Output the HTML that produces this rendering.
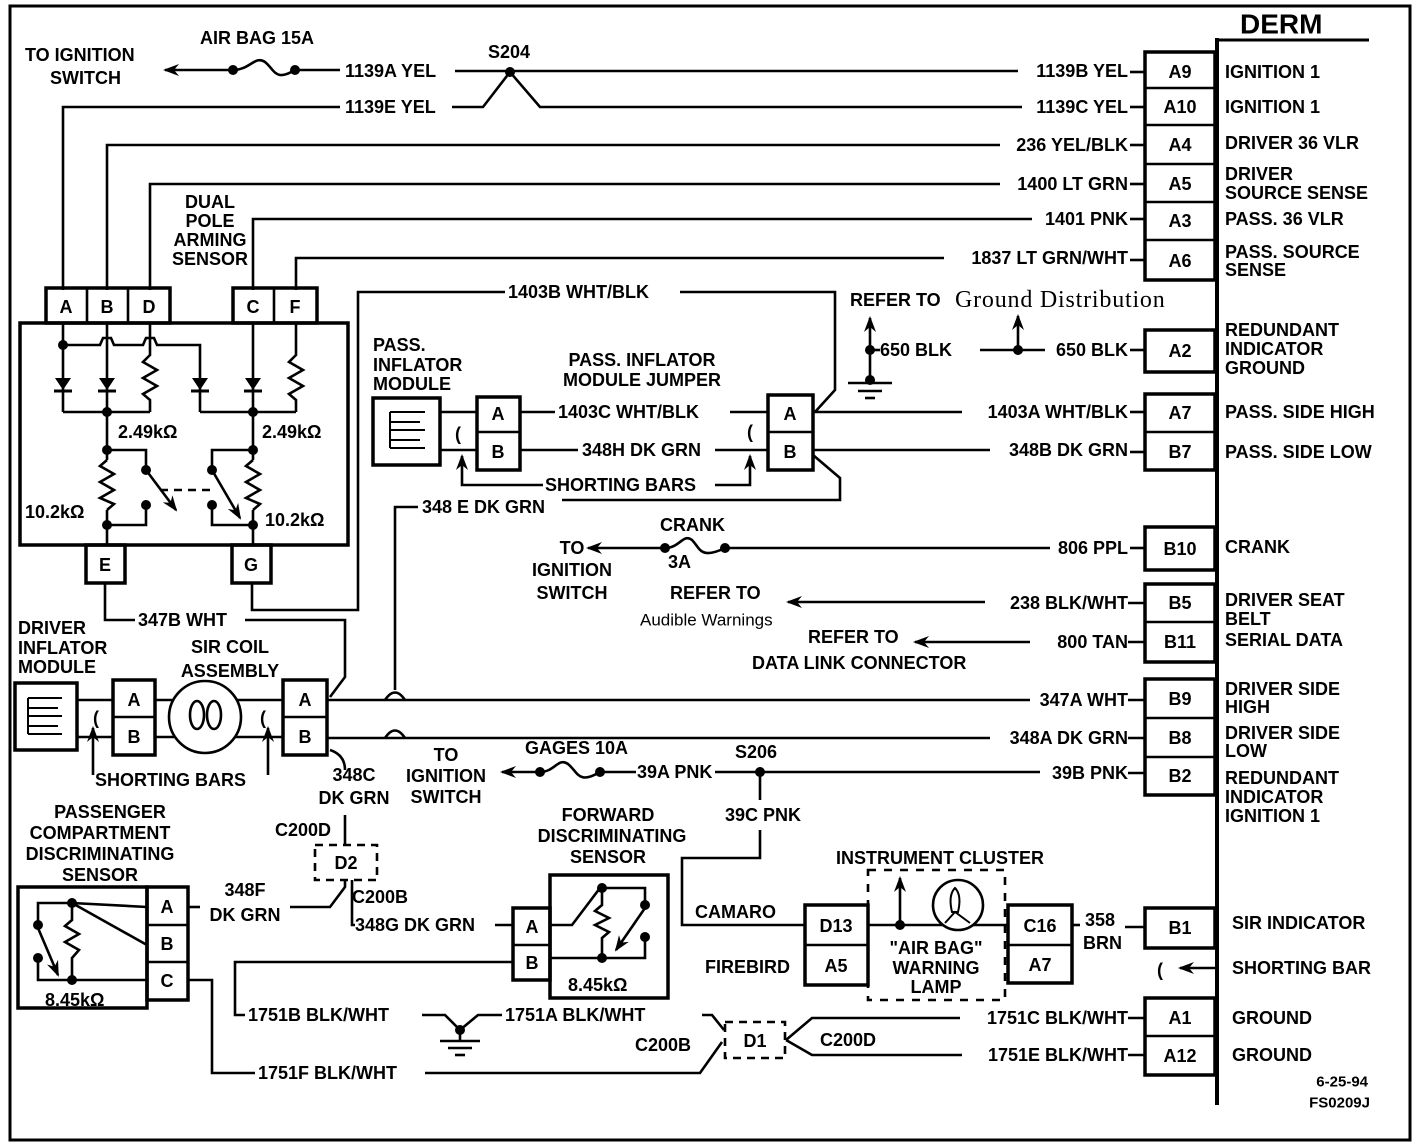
<!DOCTYPE html>
<html><head><meta charset="utf-8"><style>
html,body{margin:0;padding:0;background:#fff;}
svg{display:block;}
text{font-family:"Liberation Sans",sans-serif;font-weight:bold;font-size:18px;fill:#000;}
.s{font-size:15px}
.n{font-weight:normal}
</style></head><body>
<svg width="1424" height="1148" viewBox="0 0 1424 1148" xmlns="http://www.w3.org/2000/svg">
<defs>
<marker id="ah" markerWidth="16" markerHeight="12" refX="14" refY="6" orient="auto" markerUnits="userSpaceOnUse"><path d="M0,0 L16,6 L0,12 L5,6 Z" fill="#000" stroke="none"/></marker>
</defs>
<g fill="none" stroke="#000" stroke-width="2.6">
<rect x="10" y="6" width="1400" height="1134" stroke-width="3"/>
<line x1="1217" y1="38" x2="1217" y2="1105" stroke-width="4"/>
<line x1="1217" y1="40" x2="1369" y2="40" stroke-width="3"/>
<rect x="1145" y="52" width="70" height="228" stroke-width="3.5"/>
<line x1="1145" y1="88" x2="1215" y2="88"/><line x1="1145" y1="125" x2="1215" y2="125"/>
<line x1="1145" y1="164" x2="1215" y2="164"/><line x1="1145" y1="202" x2="1215" y2="202"/>
<line x1="1145" y1="240" x2="1215" y2="240"/>
<rect x="1145" y="330" width="70" height="42" stroke-width="3.5"/>
<rect x="1145" y="394" width="70" height="76" stroke-width="3.5"/><line x1="1145" y1="432" x2="1215" y2="432"/>
<rect x="1145" y="527" width="70" height="43" stroke-width="3.5"/>
<rect x="1145" y="584" width="70" height="78" stroke-width="3.5"/><line x1="1145" y1="622" x2="1215" y2="622"/>
<rect x="1145" y="679" width="70" height="116" stroke-width="3.5"/><line x1="1145" y1="718" x2="1215" y2="718"/><line x1="1145" y1="757" x2="1215" y2="757"/>
<rect x="1145" y="908" width="70" height="40" stroke-width="3.5"/>
<rect x="1145" y="998" width="70" height="77" stroke-width="3.5"/><line x1="1145" y1="1036" x2="1215" y2="1036"/>

<line x1="230" y1="70" x2="165" y2="70" marker-end="url(#ah)"/>
<path d="M233,70 C250,70 255,55 265,62 C275,70 275,82 295,70"/>
<line x1="295" y1="70" x2="340" y2="70"/>
<line x1="455" y1="71" x2="1018" y2="71"/>
<line x1="1130" y1="72" x2="1145" y2="72"/>
<polyline points="63,290 63,107 340,107"/>
<polyline points="452,107 483,107 510,72 540,107 1022,107"/>
<line x1="1130" y1="107" x2="1145" y2="107"/>
<polyline points="107,290 107,145 1000,145"/><line x1="1130" y1="145" x2="1145" y2="145"/>
<polyline points="150,290 150,184 1000,184"/><line x1="1130" y1="184" x2="1145" y2="184"/>
<polyline points="253,290 253,219 1032,219"/><line x1="1130" y1="219" x2="1145" y2="219"/>
<polyline points="296,290 296,258 944,258"/><line x1="1130" y1="260" x2="1145" y2="260"/>

<rect x="46" y="288" width="124" height="35" stroke-width="3.5"/>
<line x1="87" y1="288" x2="87" y2="323"/><line x1="128" y1="288" x2="128" y2="323"/>
<rect x="233" y="288" width="84" height="35" stroke-width="3.5"/><line x1="274" y1="288" x2="274" y2="323"/>
<rect x="20" y="323" width="328" height="222" stroke-width="3.5"/>
<rect x="86" y="545" width="39" height="38" stroke-width="3.5"/>
<rect x="232" y="545" width="39" height="38" stroke-width="3.5"/>
<line x1="63" y1="323" x2="63" y2="412"/>
<polyline points="63,345 100,345 103,338 111,338 114,345 143,345 146,338 154,338 157,345 200,345 200,412"/>
<polyline points="63,412 150,412"/>
<line x1="107" y1="323" x2="107" y2="460"/><line x1="107" y1="510" x2="107" y2="545"/>
<polyline points="150,323 150,355 143,362 157,370 143,378 157,386 143,394 150,400 150,412"/>
<polyline points="200,412 296,412"/>
<line x1="253" y1="323" x2="253" y2="460"/><line x1="253" y1="510" x2="253" y2="545"/>
<polyline points="296,323 296,355 289,362 303,370 289,378 303,386 289,394 296,400 296,412"/>
<polyline points="107,460 100,466 114,474 100,482 114,490 100,498 114,504 107,510"/>
<polyline points="253,460 246,466 260,474 246,482 260,490 246,498 260,504 253,510"/>
<polyline points="107,450 146,450 146,470"/>
<line x1="146" y1="470" x2="176" y2="510" marker-end="url(#ah)"/>
<polyline points="146,505 146,525 107,525"/>
<line x1="160" y1="490" x2="212" y2="490" stroke-dasharray="8,6"/>
<polyline points="253,450 212,450 212,470"/>
<line x1="212" y1="470" x2="240" y2="518" marker-end="url(#ah)"/>
<polyline points="212,505 212,525 253,525"/>
<polyline points="105,583 105,620 135,620"/>
<polyline points="245,620 345,620 345,677 330,697"/>
<polyline points="252,583 252,610 358,610 358,292 505,292"/>
<polyline points="680,292 835,292 835,390 815,412"/>

<rect x="373" y="398" width="67" height="67" stroke-width="3.5"/>
<path d="M390,412 H425 M390,412 V422 H420 M390,430 H425 M390,430 V440 H420 M390,448 H425 M390,448 V412" stroke-width="2"/>
<line x1="440" y1="412" x2="477" y2="412"/><line x1="440" y1="450" x2="477" y2="450"/>
<rect x="477" y="397" width="43" height="73" stroke-width="3.5"/><line x1="477" y1="432" x2="520" y2="432"/>
<line x1="520" y1="412" x2="555" y2="412"/><line x1="730" y1="412" x2="768" y2="412"/>
<line x1="520" y1="450" x2="578" y2="450"/><line x1="715" y1="450" x2="768" y2="450"/>
<rect x="768" y="395" width="45" height="75" stroke-width="3.5"/><line x1="768" y1="432" x2="813" y2="432"/>
<polyline points="543,485 462,485 462,456" marker-end="url(#ah)"/>
<polyline points="715,485 750,485 750,456" marker-end="url(#ah)"/>
<line x1="813" y1="412" x2="962" y2="412"/><line x1="1130" y1="412" x2="1145" y2="412"/>
<line x1="813" y1="450" x2="990" y2="450"/><line x1="1130" y1="452" x2="1145" y2="452"/>
<polyline points="813,455 840,478 840,500 562,500"/>
<polyline points="418,507 395,507 395,690 M395,710 395,728 M395,748 395,840 350,845"/>
<path d="M385,700 Q395,685 405,700 M385,738 Q395,723 405,738"/>

<line x1="870" y1="350" x2="870" y2="318" marker-end="url(#ah)"/>
<line x1="870" y1="350" x2="870" y2="382"/>
<line x1="848" y1="383" x2="892" y2="383"/><line x1="858" y1="391" x2="882" y2="391"/><line x1="865" y1="398" x2="875" y2="398"/>
<line x1="870" y1="350" x2="880" y2="350"/>
<line x1="980" y1="350" x2="1045" y2="350"/>
<line x1="1018" y1="350" x2="1018" y2="316" marker-end="url(#ah)"/>
<line x1="1130" y1="350" x2="1145" y2="350"/>

<line x1="665" y1="548" x2="588" y2="548" marker-end="url(#ah)"/>
<path d="M665,548 C680,548 683,533 692,540 C700,548 700,560 725,548"/>
<line x1="725" y1="548" x2="1050" y2="548"/><line x1="1130" y1="548" x2="1145" y2="548"/>
<line x1="985" y1="602" x2="788" y2="602" marker-end="url(#ah)"/><line x1="1128" y1="603" x2="1145" y2="603"/>
<line x1="1030" y1="642" x2="915" y2="642" marker-end="url(#ah)"/><line x1="1128" y1="642" x2="1145" y2="642"/>

<rect x="15" y="683" width="62" height="67" stroke-width="3.5"/>
<path d="M28,698 H62 M28,698 V708 H58 M28,716 H62 M28,716 V726 H58 M28,734 H62 M28,734 V698" stroke-width="2"/>
<line x1="77" y1="700" x2="113" y2="700"/><line x1="77" y1="737" x2="113" y2="737"/>
<rect x="113" y="680" width="42" height="75" stroke-width="3.5"/><line x1="113" y1="717" x2="155" y2="717"/>
<line x1="155" y1="700" x2="283" y2="700"/><line x1="155" y1="737" x2="283" y2="737"/>
<circle cx="205" cy="717" r="36" fill="#fff"/>
<ellipse cx="197" cy="715" rx="7" ry="14"/><ellipse cx="214" cy="715" rx="7" ry="14"/>
<rect x="283" y="680" width="44" height="75" stroke-width="3.5"/><line x1="283" y1="717" x2="327" y2="717"/>
<polyline points="93,775 93,728" marker-end="url(#ah)"/>
<polyline points="268,775 268,728" marker-end="url(#ah)"/>
<line x1="327" y1="700" x2="1030" y2="700"/><line x1="1128" y1="700" x2="1145" y2="700"/>
<line x1="327" y1="738" x2="990" y2="738"/><line x1="1128" y1="738" x2="1145" y2="738"/>
<path d="M330,750 Q345,755 345,770"/>
<line x1="345" y1="815" x2="345" y2="845"/>
<rect x="315" y="845" width="62" height="35" stroke-dasharray="8,6"/>
<polyline points="345,880 345,887 330,907 290,907"/>
<polyline points="352,880 352,925 355,925"/>
<line x1="495" y1="925" x2="513" y2="925"/>

<line x1="540" y1="772" x2="502" y2="772" marker-end="url(#ah)"/>
<path d="M540,772 C555,772 558,757 568,764 C578,772 578,785 600,772"/>
<line x1="600" y1="772" x2="636" y2="772"/>
<line x1="715" y1="772" x2="1040" y2="772"/><line x1="1128" y1="773" x2="1145" y2="773"/>
<line x1="760" y1="772" x2="760" y2="800"/>
<polyline points="760,830 760,858 682,858 682,925 805,925"/>

<rect x="18" y="887" width="129" height="121" stroke-width="3.5"/>
<rect x="147" y="887" width="41" height="113" stroke-width="3.5"/>
<line x1="147" y1="925" x2="188" y2="925"/><line x1="147" y1="962" x2="188" y2="962"/>
<line x1="72" y1="903" x2="147" y2="907"/>
<line x1="72" y1="903" x2="147" y2="945"/>
<polyline points="72,903 38,903 38,925"/>
<line x1="38" y1="928" x2="58" y2="975" marker-end="url(#ah)"/>
<polyline points="38,958 38,980 147,980"/>
<polyline points="72,903 72,920 65,926 79,934 65,942 79,950 72,958 72,980"/>
<line x1="188" y1="907" x2="200" y2="907"/>
<polyline points="188,980 212,980 212,1073 255,1073"/>
<polyline points="425,1073 700,1073 722,1042"/>

<rect x="550" y="875" width="118" height="123" stroke-width="3.5"/>
<rect x="513" y="908" width="37" height="72" stroke-width="3.5"/><line x1="513" y1="945" x2="550" y2="945"/>
<polyline points="550,925 572,925 600,888"/>
<polyline points="602,888 645,888 645,905"/>
<polyline points="602,888 602,905 595,911 609,918 595,925 609,932 602,938 602,958"/>
<line x1="645" y1="908" x2="616" y2="950" marker-end="url(#ah)"/>
<polyline points="550,958 645,958 645,937"/>
<polyline points="513,962 235,962 235,1015 245,1015"/>
<polyline points="422,1015 445,1015 460,1030 478,1015 502,1015"/>
<line x1="460" y1="1030" x2="460" y2="1040"/>
<line x1="440" y1="1041" x2="480" y2="1041"/><line x1="448" y1="1048" x2="472" y2="1048"/><line x1="455" y1="1055" x2="465" y2="1055"/>
<polyline points="702,1015 712,1015 724,1030"/>
<rect x="725" y="1022" width="60" height="36" stroke-dasharray="8,6"/>
<polyline points="786,1040 812,1018 960,1018"/><line x1="1128" y1="1018" x2="1145" y2="1018"/>
<polyline points="786,1040 812,1055 962,1055"/><line x1="1128" y1="1055" x2="1145" y2="1055"/>

<rect x="868" y="870" width="137" height="130" stroke-dasharray="8,8"/>
<rect x="805" y="905" width="63" height="80" stroke-width="3.5"/><line x1="805" y1="945" x2="868" y2="945"/>
<rect x="1008" y="905" width="64" height="78" stroke-width="3.5"/><line x1="1008" y1="945" x2="1072" y2="945"/>
<line x1="868" y1="925" x2="1008" y2="925"/>
<line x1="900" y1="925" x2="900" y2="878" marker-end="url(#ah)"/>
<circle cx="958" cy="905" r="25" fill="#fff"/>
<path d="M952,912 Q948,895 955,888 Q962,895 958,912 Z M945,923 L955,912 L970,923" stroke-width="2"/>
<line x1="1072" y1="925" x2="1080" y2="925"/><line x1="1125" y1="927" x2="1145" y2="927"/>
<line x1="1215" y1="968" x2="1180" y2="968" marker-end="url(#ah)"/>
</g>
<g fill="#000">
<circle cx="233" cy="70" r="5"/><circle cx="295" cy="70" r="5"/><circle cx="510" cy="72" r="5"/>
<circle cx="63" cy="345" r="5"/><circle cx="107" cy="412" r="5"/><circle cx="253" cy="412" r="5"/>
<circle cx="107" cy="450" r="5"/><circle cx="253" cy="450" r="5"/><circle cx="107" cy="525" r="5"/><circle cx="253" cy="525" r="5"/>
<circle cx="146" cy="470" r="5"/><circle cx="146" cy="505" r="5"/><circle cx="212" cy="470" r="5"/><circle cx="212" cy="505" r="5"/>
<circle cx="870" cy="350" r="5"/><circle cx="870" cy="380" r="5"/><circle cx="1018" cy="350" r="5"/>
<circle cx="665" cy="548" r="5"/><circle cx="725" cy="548" r="5"/>
<circle cx="540" cy="772" r="5"/><circle cx="600" cy="772" r="5"/><circle cx="760" cy="772" r="5"/>
<circle cx="72" cy="903" r="5"/><circle cx="38" cy="925" r="5"/><circle cx="38" cy="958" r="5"/><circle cx="72" cy="980" r="5"/>
<circle cx="602" cy="888" r="5"/><circle cx="645" cy="905" r="5"/><circle cx="645" cy="937" r="5"/><circle cx="602" cy="958" r="5"/>
<circle cx="460" cy="1030" r="5"/><circle cx="900" cy="925" r="5"/>
<path d="M55,378 H71 L63,390 Z M99,378 H115 L107,390 Z M192,378 H208 L200,390 Z M245,378 H261 L253,390 Z"/>
</g>
<g stroke="#000" stroke-width="3"><line x1="54" y1="391" x2="72" y2="391"/><line x1="98" y1="391" x2="116" y2="391"/><line x1="191" y1="391" x2="209" y2="391"/><line x1="244" y1="391" x2="262" y2="391"/></g>

<g dominant-baseline="central">
<text x="1240" y="24" style="font-size:28px">DERM</text>
<text x="25" y="55">TO IGNITION</text><text x="50" y="78">SWITCH</text>
<text x="200" y="38">AIR BAG 15A</text>
<text x="488" y="52">S204</text>
<text x="345" y="71">1139A YEL</text><text x="345" y="107">1139E YEL</text>
<text x="1128" y="71" text-anchor="end">1139B YEL</text>
<text x="1128" y="107" text-anchor="end">1139C YEL</text>
<text x="1128" y="145" text-anchor="end">236 YEL/BLK</text>
<text x="1128" y="184" text-anchor="end">1400 LT GRN</text>
<text x="1128" y="219" text-anchor="end">1401 PNK</text>
<text x="1128" y="258" text-anchor="end">1837 LT GRN/WHT</text>
<text x="210" y="202" text-anchor="middle">DUAL</text><text x="210" y="221" text-anchor="middle">POLE</text>
<text x="210" y="240" text-anchor="middle">ARMING</text><text x="210" y="259" text-anchor="middle">SENSOR</text>
<text x="66" y="307" text-anchor="middle">A</text><text x="107" y="307" text-anchor="middle">B</text><text x="149" y="307" text-anchor="middle">D</text>
<text x="253" y="307" text-anchor="middle">C</text><text x="295" y="307" text-anchor="middle">F</text>
<text x="105" y="565" text-anchor="middle">E</text><text x="251" y="565" text-anchor="middle">G</text>
<text x="118" y="432">2.49kΩ</text><text x="262" y="432">2.49kΩ</text>
<text x="25" y="512">10.2kΩ</text><text x="265" y="520">10.2kΩ</text>
<text x="508" y="292">1403B WHT/BLK</text>
<text x="850" y="300">REFER TO</text>
<text x="955" y="300" class="n" style="font-family:'Liberation Serif',serif;font-size:24px;letter-spacing:0.8px">Ground Distribution</text>
<text x="880" y="350">650 BLK</text><text x="1128" y="350" text-anchor="end">650 BLK</text>
<text x="373" y="345">PASS.</text><text x="373" y="365">INFLATOR</text><text x="373" y="384">MODULE</text>
<text x="642" y="360" text-anchor="middle">PASS. INFLATOR</text><text x="642" y="380" text-anchor="middle">MODULE JUMPER</text>
<text x="498" y="414" text-anchor="middle">A</text><text x="498" y="452" text-anchor="middle">B</text>
<text x="790" y="414" text-anchor="middle">A</text><text x="790" y="452" text-anchor="middle">B</text>
<text x="458" y="434" text-anchor="middle">(</text><text x="750" y="432" text-anchor="middle">(</text>
<text x="558" y="412">1403C WHT/BLK</text><text x="582" y="450">348H DK GRN</text>
<text x="545" y="485">SHORTING BARS</text>
<text x="1128" y="412" text-anchor="end">1403A WHT/BLK</text>
<text x="1128" y="450" text-anchor="end">348B DK GRN</text>
<text x="422" y="507">348 E DK GRN</text>
<text x="660" y="525">CRANK</text><text x="668" y="562">3A</text>
<text x="572" y="548" text-anchor="middle">TO</text><text x="572" y="570" text-anchor="middle">IGNITION</text><text x="572" y="593" text-anchor="middle">SWITCH</text>
<text x="1128" y="548" text-anchor="end">806 PPL</text>
<text x="670" y="593">REFER TO</text>
<text x="640" y="620" class="n" style="font-size:17px">Audible Warnings</text>
<text x="1128" y="603" text-anchor="end">238 BLK/WHT</text>
<text x="808" y="637">REFER TO</text><text x="1128" y="642" text-anchor="end">800 TAN</text>
<text x="752" y="663">DATA LINK CONNECTOR</text>
<text x="138" y="620">347B WHT</text>
<text x="18" y="628">DRIVER</text><text x="18" y="648">INFLATOR</text><text x="18" y="667">MODULE</text>
<text x="230" y="647" text-anchor="middle">SIR COIL</text><text x="230" y="671" text-anchor="middle">ASSEMBLY</text>
<text x="134" y="700" text-anchor="middle">A</text><text x="134" y="737" text-anchor="middle">B</text>
<text x="305" y="700" text-anchor="middle">A</text><text x="305" y="737" text-anchor="middle">B</text>
<text x="96" y="718" text-anchor="middle">(</text><text x="263" y="718" text-anchor="middle">(</text>
<text x="95" y="780">SHORTING BARS</text>
<text x="1128" y="700" text-anchor="end">347A WHT</text>
<text x="1128" y="738" text-anchor="end">348A DK GRN</text>
<text x="354" y="775" text-anchor="middle">348C</text><text x="354" y="798" text-anchor="middle">DK GRN</text>
<text x="446" y="755" text-anchor="middle">TO</text><text x="446" y="776" text-anchor="middle">IGNITION</text><text x="446" y="797" text-anchor="middle">SWITCH</text>
<text x="525" y="748">GAGES 10A</text><text x="637" y="772">39A PNK</text>
<text x="735" y="752">S206</text><text x="1128" y="773" text-anchor="end">39B PNK</text>
<text x="725" y="815">39C PNK</text>
<text x="275" y="830">C200D</text>
<text x="346" y="863" text-anchor="middle">D2</text>
<text x="352" y="897">C200B</text>
<text x="245" y="890" text-anchor="middle">348F</text><text x="245" y="915" text-anchor="middle">DK GRN</text>
<text x="355" y="925">348G DK GRN</text>
<text x="110" y="812" text-anchor="middle">PASSENGER</text><text x="100" y="833" text-anchor="middle">COMPARTMENT</text>
<text x="100" y="854" text-anchor="middle">DISCRIMINATING</text><text x="100" y="875" text-anchor="middle">SENSOR</text>
<text x="167" y="907" text-anchor="middle">A</text><text x="167" y="944" text-anchor="middle">B</text><text x="167" y="981" text-anchor="middle">C</text>
<text x="45" y="1000">8.45kΩ</text>
<text x="608" y="815" text-anchor="middle">FORWARD</text><text x="612" y="836" text-anchor="middle">DISCRIMINATING</text><text x="608" y="857" text-anchor="middle">SENSOR</text>
<text x="532" y="927" text-anchor="middle">A</text><text x="532" y="963" text-anchor="middle">B</text>
<text x="568" y="985">8.45kΩ</text>
<text x="248" y="1015">1751B BLK/WHT</text><text x="505" y="1015">1751A BLK/WHT</text>
<text x="258" y="1073">1751F BLK/WHT</text>
<text x="635" y="1045">C200B</text><text x="755" y="1041" text-anchor="middle">D1</text><text x="820" y="1040">C200D</text>
<text x="1128" y="1018" text-anchor="end">1751C BLK/WHT</text>
<text x="1128" y="1055" text-anchor="end">1751E BLK/WHT</text>
<text x="940" y="858" text-anchor="middle">INSTRUMENT CLUSTER</text>
<text x="695" y="912">CAMARO</text><text x="705" y="967">FIREBIRD</text>
<text x="836" y="926" text-anchor="middle">D13</text><text x="836" y="966" text-anchor="middle">A5</text>
<text x="1040" y="926" text-anchor="middle">C16</text><text x="1040" y="965" text-anchor="middle">A7</text>
<text x="936" y="948" text-anchor="middle">"AIR BAG"</text><text x="936" y="968" text-anchor="middle">WARNING</text><text x="936" y="987" text-anchor="middle">LAMP</text>
<text x="1085" y="920">358</text><text x="1083" y="943">BRN</text>
<text x="1160" y="970" text-anchor="middle">(</text>
<text x="1180" y="72" text-anchor="middle">A9</text><text x="1180" y="107" text-anchor="middle">A10</text>
<text x="1180" y="145" text-anchor="middle">A4</text><text x="1180" y="184" text-anchor="middle">A5</text>
<text x="1180" y="221" text-anchor="middle">A3</text><text x="1180" y="261" text-anchor="middle">A6</text>
<text x="1180" y="351" text-anchor="middle">A2</text><text x="1180" y="413" text-anchor="middle">A7</text>
<text x="1180" y="452" text-anchor="middle">B7</text><text x="1180" y="549" text-anchor="middle">B10</text>
<text x="1180" y="603" text-anchor="middle">B5</text><text x="1180" y="642" text-anchor="middle">B11</text>
<text x="1180" y="699" text-anchor="middle">B9</text><text x="1180" y="738" text-anchor="middle">B8</text>
<text x="1180" y="776" text-anchor="middle">B2</text><text x="1180" y="928" text-anchor="middle">B1</text>
<text x="1180" y="1018" text-anchor="middle">A1</text><text x="1180" y="1056" text-anchor="middle">A12</text>
<text x="1225" y="72">IGNITION 1</text><text x="1225" y="107">IGNITION 1</text>
<text x="1225" y="143">DRIVER 36 VLR</text>
<text x="1225" y="174">DRIVER</text><text x="1225" y="193">SOURCE SENSE</text>
<text x="1225" y="219">PASS. 36 VLR</text>
<text x="1225" y="252">PASS. SOURCE</text><text x="1225" y="270">SENSE</text>
<text x="1225" y="330">REDUNDANT</text><text x="1225" y="349">INDICATOR</text><text x="1225" y="368">GROUND</text>
<text x="1225" y="412">PASS. SIDE HIGH</text><text x="1225" y="452">PASS. SIDE LOW</text>
<text x="1225" y="547">CRANK</text>
<text x="1225" y="600">DRIVER SEAT</text><text x="1225" y="619">BELT</text><text x="1225" y="640">SERIAL DATA</text>
<text x="1225" y="689">DRIVER SIDE</text><text x="1225" y="707">HIGH</text>
<text x="1225" y="733">DRIVER SIDE</text><text x="1225" y="751">LOW</text>
<text x="1225" y="778">REDUNDANT</text><text x="1225" y="797">INDICATOR</text><text x="1225" y="816">IGNITION 1</text>
<text x="1232" y="923">SIR INDICATOR</text><text x="1232" y="968">SHORTING BAR</text>
<text x="1232" y="1018">GROUND</text><text x="1232" y="1055">GROUND</text>
<text x="1368" y="1082" text-anchor="end" class="s">6-25-94</text>
<text x="1370" y="1103" text-anchor="end" class="s">FS0209J</text>
</g>
</svg>
</body></html>
